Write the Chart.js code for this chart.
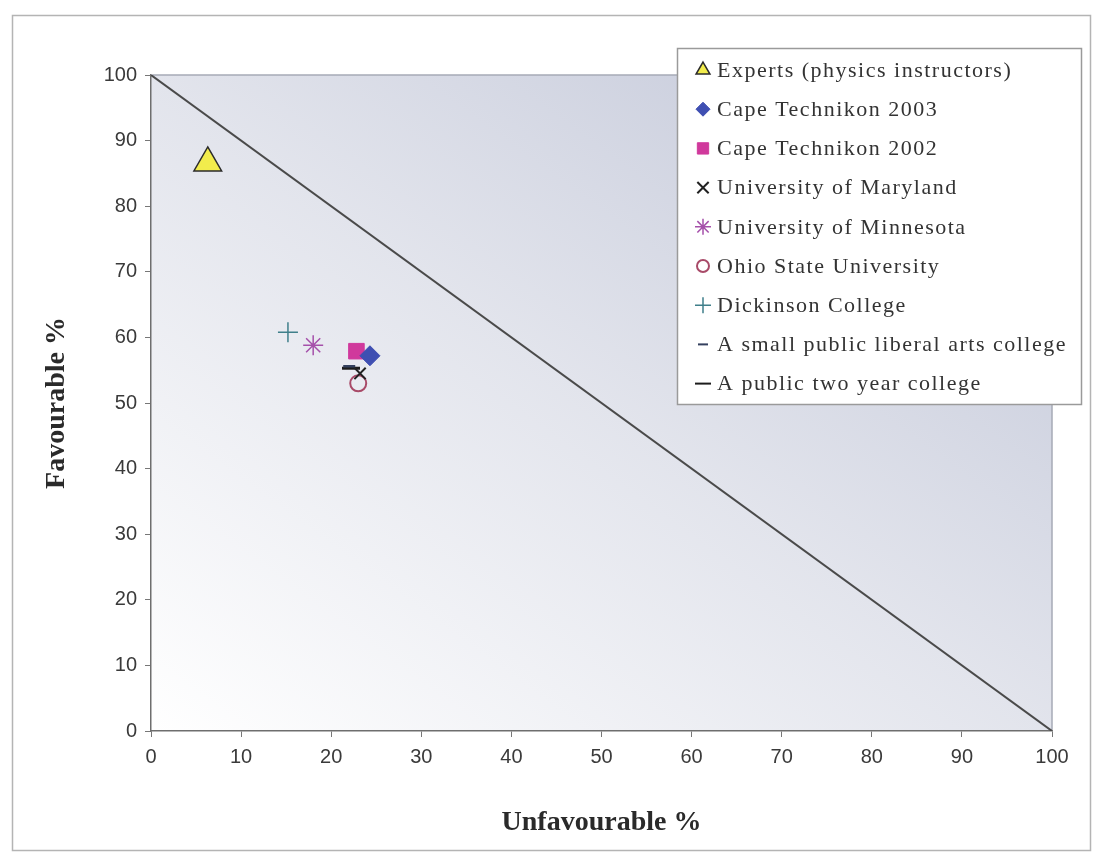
<!DOCTYPE html>
<html>
<head>
<meta charset="utf-8">
<title>Favourable vs Unfavourable</title>
<script src="https://cdn.jsdelivr.net/npm/chart.js@4/dist/chart.umd.min.js"></script>
<style>
  html, body { margin: 0; padding: 0; background: #fff; }
  #wrap { width: 1099px; height: 866px; }
</style>
</head>
<body>
<div id="wrap"><canvas id="myChart" width="1099" height="866"></canvas></div>
<script>
'use strict';

// groups shown in the legend, in order
const groups = [
  'Experts (physics instructors)',
  'Cape Technikon 2003',
  'Cape Technikon 2002',
  'University of Maryland',
  'University of Minnesota',
  'Ohio State University',
  'Dickinson College',
  'A small public liberal arts college',
  'A public two year college'
];
// unfavourable % (x) and favourable % (y) per group
const unfavourable = [6.3, 24.3, 22.8, 23.2, 18.0, 23.0, 15.2, 22.0, 22.2];
const favourable   = [86.6, 57.2, 57.9, 54.5, 58.8, 53.0, 60.8, 55.6, 55.3];
const xTicks = [0, 10, 20, 30, 40, 50, 60, 70, 80, 90, 100];
const yTicks = [0, 10, 20, 30, 40, 50, 60, 70, 80, 90, 100];
const diagonal = [{x: 0, y: 100}, {x: 100, y: 0}];

const markers = [
  {style: 'triangle', r: 16, lr: 8,  bg: '#f2ec4c', border: '#2b2b2b', bw: 1.5},
  {style: 'rectRot',  r: 10, lr: 7,  bg: '#3f4fb2', border: '#3f4fb2', bw: 1},
  {style: 'rect',     r: 11, lr: 8,  bg: '#d0399c', border: '#d0399c', bw: 1},
  {style: 'crossRot', r: 8,  lr: 8,  bg: '#222',    border: '#222',    bw: 2},
  {style: 'star',     r: 10, lr: 8,  bg: '#a550aa', border: '#a550aa', bw: 1.5},
  {style: 'circle',   r: 8,  lr: 6,  bg: 'rgba(255,255,255,0)', border: '#a84a68', bw: 2},
  {style: 'cross',    r: 10, lr: 8,  bg: '#3f7f8a', border: '#3f7f8a', bw: 1.5},
  {style: 'line',     r: 6,  lr: 5,  bg: '#34405e', border: '#34405e', bw: 2.5},
  {style: 'line',     r: 9,  lr: 8,  bg: '#1c1c1c', border: '#1c1c1c', bw: 3}
];

const datasets = groups.map(function(name, i) {
  const m = markers[i];
  return {
    type: 'scatter',
    label: name,
    data: [{x: unfavourable[i], y: favourable[i]}],
    pointStyle: m.style,
    pointRadius: m.r,
    pointBackgroundColor: m.bg,
    pointBorderColor: m.border,
    pointBorderWidth: m.bw,
    order: 1
  };
});
datasets.push({
  type: 'line',
  label: 'diagonal',
  data: diagonal,
  borderColor: '#4a4a4a',
  borderWidth: 2,
  pointRadius: 0,
  fill: false,
  order: 2
});

const backdrop = {
  id: 'backdrop',
  beforeDraw(chart) {
    const ctx = chart.ctx;
    const a = chart.chartArea;
    ctx.save();
    ctx.fillStyle = '#ffffff';
    ctx.fillRect(0, 0, chart.width, chart.height);
    ctx.strokeStyle = '#b4b4b4';
    ctx.lineWidth = 1.5;
    ctx.strokeRect(12.5, 15.5, 1078, 835);
    // shade runs from bottom-left (white) to top-right (grey-blue)
    const w = a.right - a.left, h = a.bottom - a.top;
    const cx = (a.left + a.right) / 2, cy = (a.top + a.bottom) / 2;
    const t = (w * h) / (w * w + h * h);
    const g = ctx.createLinearGradient(cx - t * h, cy + t * w, cx + t * h, cy - t * w);
    g.addColorStop(0, '#ffffff');
    g.addColorStop(0.5, '#e2e4ec');
    g.addColorStop(1, '#c0c5d7');
    ctx.fillStyle = g;
    ctx.fillRect(a.left, a.top, w, h);
    ctx.strokeStyle = '#a6aab6';
    ctx.lineWidth = 1.5;
    ctx.beginPath();
    ctx.moveTo(a.left, a.top);
    ctx.lineTo(a.right, a.top);
    ctx.lineTo(a.right, a.bottom);
    ctx.stroke();
    ctx.restore();
  }
};

const boxLegend = {
  id: 'boxLegend',
  afterDraw(chart) {
    const ctx = chart.ctx;
    const left = 677, top = 48, w = 404, h = 356;
    ctx.save();
    ctx.fillStyle = '#ffffff';
    ctx.fillRect(left, top, w, h);
    ctx.strokeStyle = '#9a9a9a';
    ctx.lineWidth = 1.5;
    ctx.strokeRect(left + 0.5, top + 0.5, w, h);
    ctx.font = '22px "Liberation Serif", "Times New Roman", serif';
    ctx.letterSpacing = '1.5px';
    ctx.textBaseline = 'middle';
    groups.forEach(function(name, i) {
      const m = markers[i];
      const y = top + 22 + i * 39.2;
      ctx.fillStyle = m.bg;
      ctx.strokeStyle = m.border;
      ctx.lineWidth = Math.min(m.bw, 2);
      Chart.helpers.drawPoint(ctx, {pointStyle: m.style, radius: m.lr, rotation: 0, borderWidth: m.bw}, left + 26, y);
      ctx.fillStyle = '#333';
      ctx.fillText(name, left + 40, y + 1);
    });
    ctx.restore();
  }
};

const tickFont = {family: '"Liberation Sans", Arial, sans-serif', size: 20};
const titleFont = {family: '"Liberation Serif", "Times New Roman", serif', size: 28, weight: 'bold'};

new Chart(document.getElementById('myChart'), {
  data: {datasets: datasets},
  options: {
    responsive: false,
    animation: false,
    layout: {padding: {left: 0, right: 47, top: 75, bottom: 0}},
    plugins: {
      legend: {display: false},
      tooltip: {enabled: false}
    },
    scales: {
      x: {
        type: 'linear',
        min: 0, max: 100,
        afterFit: function(scale) { scale.height = 135; },
        afterBuildTicks: function(scale) { scale.ticks = xTicks.map(v => ({value: v})); },
        grid: {drawOnChartArea: false, drawTicks: true, tickLength: 6, color: '#777'},
        border: {color: '#6e6e6e', width: 1.5},
        ticks: {font: tickFont, color: '#3a3a3a', padding: 8, maxRotation: 0},
        title: {display: true, text: 'Unfavourable %', font: titleFont, color: '#2a2a2a', padding: {top: 0, bottom: 26}}
      },
      y: {
        type: 'linear',
        min: 0, max: 100,
        afterFit: function(scale) { scale.width = 151; },
        afterBuildTicks: function(scale) { scale.ticks = yTicks.map(v => ({value: v})); },
        grid: {drawOnChartArea: false, drawTicks: true, tickLength: 6, color: '#777'},
        border: {color: '#6e6e6e', width: 1.5},
        ticks: {font: tickFont, color: '#3a3a3a', padding: 8},
        title: {display: true, text: 'Favourable %', font: titleFont, color: '#2a2a2a', padding: {top: 40, bottom: 0}}
      }
    }
  },
  plugins: [backdrop, boxLegend]
});
</script>
</body>
</html>
